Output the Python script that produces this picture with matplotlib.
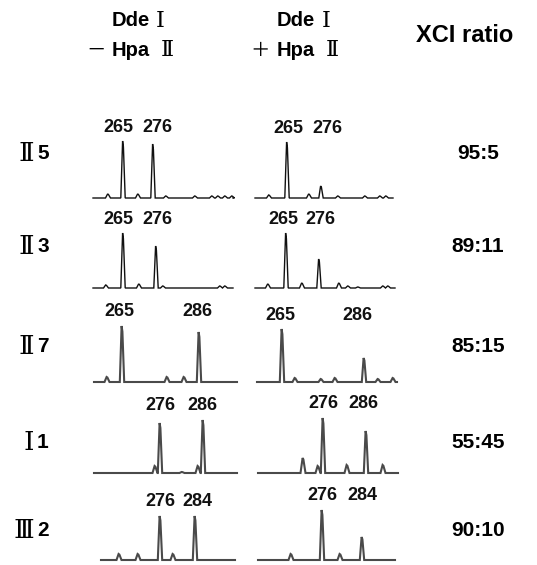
import matplotlib
matplotlib.use('Agg')
import matplotlib.pyplot as plt

W, H = 537, 565

# sample labels and XCI ratios
generations = ['Ⅱ', 'Ⅱ', 'Ⅱ', 'Ⅰ', 'Ⅲ']
members = ['5', '3', '7', '1', '2']
xci_ratios = ['95:5', '89:11', '85:15', '55:45', '90:10']
allele_sizes = [('265', '276'), ('265', '276'), ('265', '286'), ('276', '286'), ('276', '284')]

# DdeI - HpaII (scan units, peak heights)
minus_span = [(3, 143), (3, 143), (4, 147), (4, 147), (11, 145)]
minus_allele_pos = [(33, 63), (33, 66), (32, 109), (70, 113), (70, 105)]
minus_allele_h = [(57, 54), (55, 42), (56, 50), (50, 53), (44, 44)]
minus_bump_pos = [[18, 48, 76, 105, 122, 128, 135, 142], [16, 49, 73, 130, 135],
                  [17, 77, 94], [65, 92, 108], [29, 48, 83]]
minus_bump_h = [[4, 4, 2, 2, 2, 2, 2, 2], [3, 4, 2, 2, 2],
                [5, 5, 5], [7, 1, 7], [6, 6, 6]]

# DdeI + HpaII
plus_span = [(3, 141), (3, 143), (5, 145), (6, 146), (6, 143)]
plus_allele_pos = [(35, 69), (34, 67), (30, 112), (71, 114), (70, 110)]
plus_allele_h = [(56, 12), (55, 29), (53, 24), (55, 42), (50, 23)]
plus_bump_pos = [[17, 57, 86, 113, 128, 134], [16, 50, 87, 96, 106, 131, 136],
                 [43, 69, 83, 126, 141], [51, 66, 95, 131], [39, 88]]
plus_bump_h = [[3, 4, 2, 2, 2, 2], [4, 5, 5, 2, 1, 2, 2],
               [4, 3, 4, 3, 4], [15, 7, 8, 8], [6, 6]]

# layout only: pixel rows and label nudges
baselines = [198, 288, 382, 473, 560]
row_y = [153, 247, 347, 443, 531]
minus_label_dx = [(-5, 4), (-5, 1), (-3, -2), (0, -1), (0, 2)]
plus_label_dx = [(1, 6), (-3, 1), (-2, -7), (0, -3), (0, 0)]

sans = 'Liberation Sans'
serif = ['DejaVu Serif', 'Noto Sans CJK SC']


def fx(x):
    return x / W


def fy(y):
    return 1 - y / H


def trace_xy(span, peaks):
    xs, ys = [span[0]], [0]
    for p, h, w in sorted(peaks):
        xs += [p - w, p - 0.4, p + 0.4, p + w]
        ys += [0, h, h * 0.9, 0]
    xs.append(span[1])
    ys.append(0)
    return xs, ys


def draw_panel(fig, left, base, span, apos, ah, bpos, bh, labels, dx, color, lw):
    ax = fig.add_axes([fx(left), fy(base + 3), fx(150), 83 / H])
    ax.set_xlim(0, 150)
    ax.set_ylim(-3, 80)
    ax.axis('off')
    peaks = [(p, h, 2.2) for p, h in zip(apos, ah)]
    peaks += [(p, h, 2.5) for p, h in zip(bpos, bh)]
    xs, ys = trace_xy(span, peaks)
    ax.plot(xs, ys, color=color, lw=lw, solid_joinstyle='miter')
    top = max(ah) + 14
    for p, lab, d in zip(apos, labels, dx):
        ax.text(p + d, top, lab, ha='center', va='center', fontsize=13,
                fontweight='bold', family=sans, color='#111111')


fig = plt.figure(figsize=(W / 100, H / 100), dpi=100)

# header
fig.text(fx(112), fy(21), 'Dde', fontsize=14.5, fontweight='bold', family=sans, va='center')
fig.text(fx(156), fy(21), 'Ⅰ', fontsize=16, family=serif, va='center')
fig.text(fx(86), fy(50), '－', fontsize=14, family=['Noto Sans CJK SC'], va='center')
fig.text(fx(112), fy(50), 'Hpa', fontsize=14.5, fontweight='bold', family=sans, va='center')
fig.text(fx(161), fy(50), 'Ⅱ', fontsize=16, family=serif, va='center')

fig.text(fx(277), fy(21), 'Dde', fontsize=14.5, fontweight='bold', family=sans, va='center')
fig.text(fx(322), fy(21), 'Ⅰ', fontsize=16, family=serif, va='center')
fig.text(fx(250), fy(50), '＋', fontsize=14, family=['Noto Sans CJK SC'], va='center')
fig.text(fx(277), fy(50), 'Hpa', fontsize=14.5, fontweight='bold', family=sans, va='center')
fig.text(fx(326), fy(50), 'Ⅱ', fontsize=16, family=serif, va='center')

fig.text(fx(465), fy(35), 'XCI ratio', fontsize=17, fontweight='bold', family=sans,
         ha='center', va='center')

for i in range(5):
    color = '#111111' if i < 2 else '#4a4a4a'
    lw = 1.0 if i < 2 else 1.5
    draw_panel(fig, 90, baselines[i], minus_span[i], minus_allele_pos[i], minus_allele_h[i],
               minus_bump_pos[i], minus_bump_h[i], allele_sizes[i], minus_label_dx[i], color, lw)
    draw_panel(fig, 252, baselines[i], plus_span[i], plus_allele_pos[i], plus_allele_h[i],
               plus_bump_pos[i], plus_bump_h[i], allele_sizes[i], plus_label_dx[i], color, lw)
    fig.text(fx(34), fy(row_y[i]), generations[i], fontsize=19, family=serif,
             ha='right', va='center')
    fig.text(fx(37), fy(row_y[i]), members[i], fontsize=15, fontweight='bold', family=sans,
             ha='left', va='center')
    fig.text(fx(478), fy(row_y[i]), xci_ratios[i], fontsize=15, fontweight='bold', family=sans,
             ha='center', va='center')

fig.savefig('out.png', dpi=100)
